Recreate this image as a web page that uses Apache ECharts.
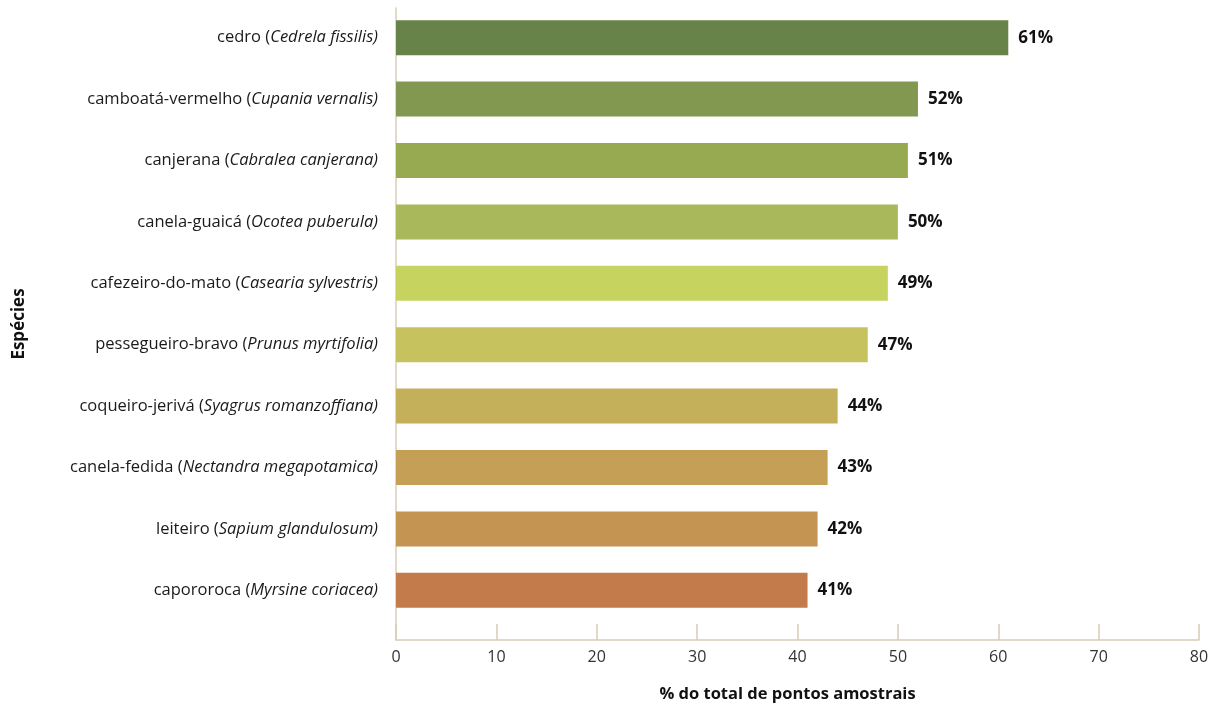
<!DOCTYPE html>
<html>
<head>
<meta charset="utf-8">
<script src="https://cdn.jsdelivr.net/npm/echarts@6/dist/echarts.min.js"></script>
<style>
  html, body { margin: 0; padding: 0; background: #fff; }
  #chart { width: 1224px; height: 708px; }
</style>
</head>
<body>
<div id="chart"></div>
<script>
// espécies, de cima para baixo
const commonNames = ['cedro', 'camboatá-vermelho', 'canjerana', 'canela-guaicá', 'cafezeiro-do-mato',
  'pessegueiro-bravo', 'coqueiro-jerivá', 'canela-fedida', 'leiteiro', 'capororoca']
const sciNames = ['Cedrela fissilis', 'Cupania vernalis', 'Cabralea canjerana', 'Ocotea puberula', 'Casearia sylvestris',
  'Prunus myrtifolia', 'Syagrus romanzoffiana', 'Nectandra megapotamica', 'Sapium glandulosum', 'Myrsine coriacea']
const percents = [61, 52, 51, 50, 49, 47, 44, 43, 42, 41]
const barColors = ['#67834a', '#829750', '#97aa52', '#a9b85a', '#c6d35f',
  '#c6c35f', '#c4b05a', '#c49f55', '#c49452', '#c47b4c']
const xTicks = [0, 10, 20, 30, 40, 50, 60, 70, 80]

const axisColor = '#d9ccb6'
const font = '"Open Sans", "Noto Sans", sans-serif'

const categories = commonNames.map((n, i) => n + '|' + sciNames[i])

const chart = echarts.init(document.getElementById('chart'))
chart.setOption({
  animation: false,
  grid: [
    // grade das linhas dos eixos (vai até o eixo x)
    { left: 396, right: 25, top: 8, bottom: 67 },
    // grade das barras
    { left: 396, right: 25, top: 7, bottom: 87 }
  ],
  xAxis: [
    {
      gridIndex: 0,
      type: 'value',
      min: xTicks[0],
      max: xTicks[xTicks.length - 1],
      interval: 10,
      name: '% do total de pontos amostrais',
      nameLocation: 'middle',
      nameGap: 46,
      nameTextStyle: { fontFamily: font, fontSize: 16.5, fontWeight: 'bold', color: '#111', padding: [0, 20, 0, 0] },
      axisLine: { show: true, lineStyle: { color: axisColor, width: 1.5 } },
      axisTick: { show: true, inside: true, length: 16, lineStyle: { color: axisColor, width: 1.5 } },
      axisLabel: { fontFamily: font, fontSize: 16, color: '#333', margin: 9 },
      splitLine: { show: false }
    },
    {
      gridIndex: 1,
      type: 'value',
      min: xTicks[0],
      max: xTicks[xTicks.length - 1],
      show: false
    }
  ],
  yAxis: [
    {
      gridIndex: 0,
      type: 'value',
      min: 0,
      max: 1,
      name: 'Espécies',
      nameLocation: 'middle',
      nameRotate: 90,
      nameGap: 368,
      nameTextStyle: { fontFamily: font, fontSize: 17, fontWeight: 'bold', color: '#111' },
      axisLine: { show: true, lineStyle: { color: axisColor, width: 1.5 } },
      axisTick: { show: false },
      axisLabel: { show: false },
      splitLine: { show: false }
    },
    {
      gridIndex: 1,
      type: 'category',
      inverse: true,
      data: categories,
      axisLine: { show: false },
      axisTick: { show: false },
      axisLabel: {
        margin: 18,
        formatter: v => {
          const [a, b] = v.split('|')
          return '{n|' + a + ' (}{s|' + b + ')}'
        },
        rich: {
          n: { fontFamily: font, fontSize: 16.5, color: '#1a1a1a' },
          s: { fontFamily: font, fontSize: 16.5, fontStyle: 'italic', color: '#1a1a1a' }
        }
      }
    }
  ],
  series: [{
    type: 'bar',
    xAxisIndex: 1,
    yAxisIndex: 1,
    barWidth: 35,
    data: percents.map((v, i) => ({ value: v, itemStyle: { color: barColors[i] } })),
    label: {
      show: true,
      position: 'right',
      distance: 10,
      formatter: '{c}%',
      fontFamily: font,
      fontSize: 17,
      fontWeight: 'bold',
      color: '#111'
    }
  }]
})
</script>
</body>
</html>
